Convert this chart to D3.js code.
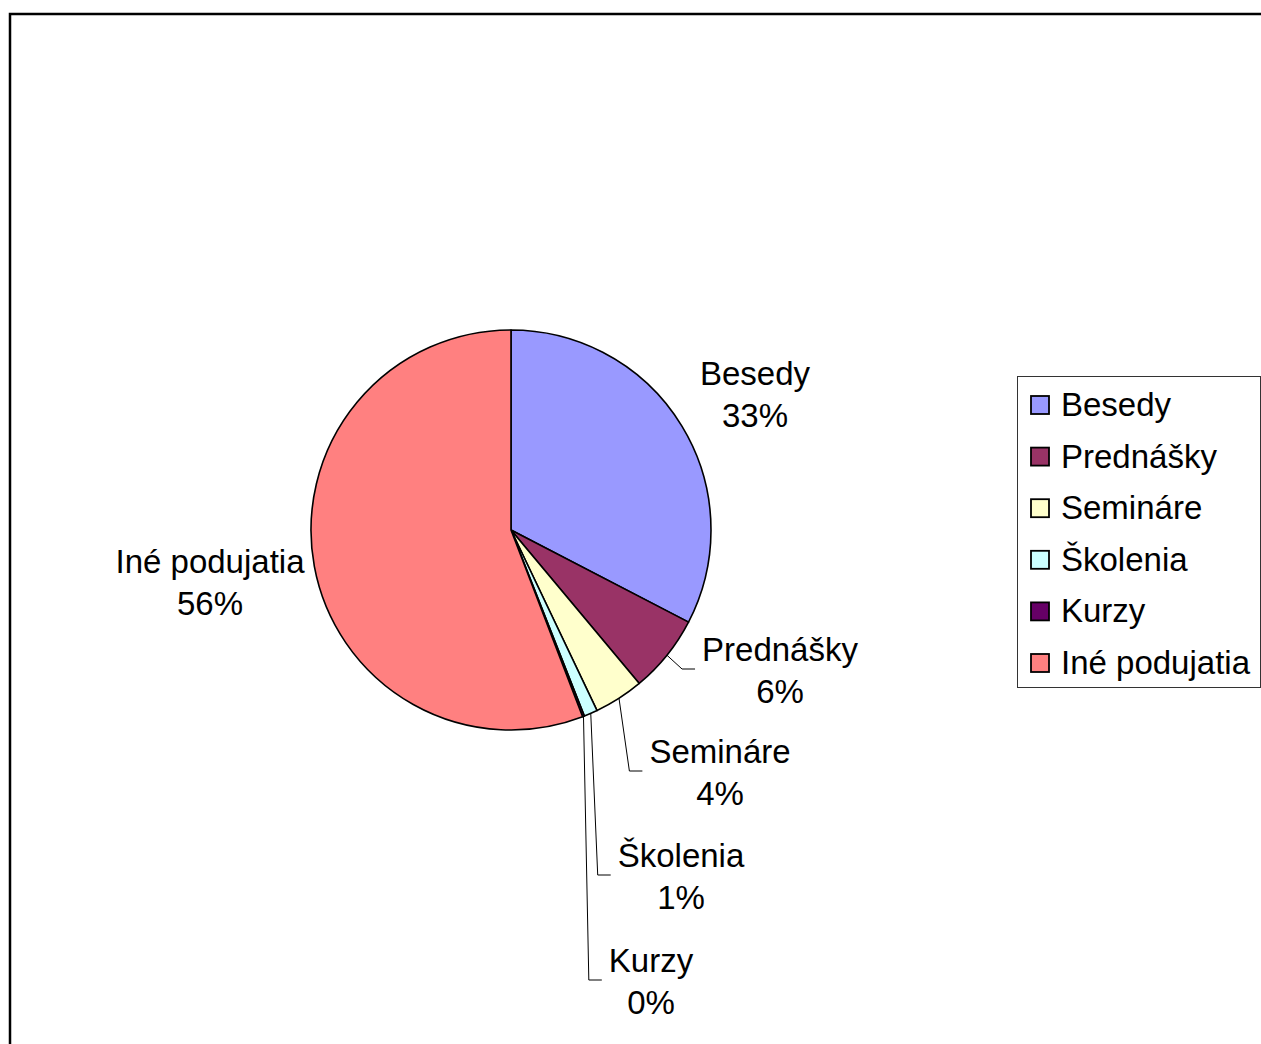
<!DOCTYPE html>
<html>
<head>
<meta charset="utf-8">
<script src="https://cdn.jsdelivr.net/npm/d3@7"></script>
<style>
  body { margin: 0; background: #fff; }
  text { font-family: "Liberation Sans", Arial, sans-serif; fill: #000; }
</style>
</head>
<body>
<div id="chart"></div>
<script>
// category names and values (share of events, %)
var categories = ["Besedy", "Prednášky", "Semináre", "Školenia", "Kurzy", "Iné podujatia"];
var values = [32.6, 6.3, 4.0, 1.1, 0.15, 55.8];
var colors = ["#9999FF", "#993366", "#FFFFCC", "#CCFFFF", "#660066", "#FF8080"];

// label layout: centre x and first baseline y of each data label
var labelPos = [[755, 385], [780, 661], [720, 763], [681, 867], [651, 972], [210, 573]];
var showLeader = [false, true, true, true, true, false];

var svgWidth = 1261;
var svgHeight = 1044;

var svg = d3.select("#chart")
  .append("svg")
  .attr("width", svgWidth)
  .attr("height", svgHeight);

// chart frame (runs off the right and bottom edges)
svg.append("rect")
  .attr("x", 10)
  .attr("y", 14)
  .attr("width", 1300)
  .attr("height", 1100)
  .attr("fill", "#fff")
  .attr("stroke", "#000")
  .attr("stroke-width", 2.5);

var cx = 511, cy = 530, radius = 200;

var pie = d3.pie().sort(null).value(d => d);
var arcs = pie(values);

var arc = d3.arc().innerRadius(0).outerRadius(radius);

var pieGroup = svg.append("g")
  .attr("transform", `translate(${cx}, ${cy})`);

pieGroup.selectAll("path")
  .data(arcs)
  .enter()
  .append("path")
  .attr("d", arc)
  .attr("fill", (d, i) => colors[i])
  .attr("stroke", "#000")
  .attr("stroke-width", 1.6)
  .attr("stroke-linejoin", "round");

var fmt = d3.format(".0f");
var total = d3.sum(values);

// data labels
var labelGroup = svg.append("g");
arcs.forEach(function(d, i) {
  var t = labelGroup.append("text")
    .attr("text-anchor", "middle")
    .attr("font-size", 33);
  t.append("tspan")
    .attr("x", labelPos[i][0])
    .attr("y", labelPos[i][1])
    .text(categories[i]);
  t.append("tspan")
    .attr("x", labelPos[i][0])
    .attr("y", labelPos[i][1] + 42)
    .text(fmt(d.value / total * 100) + "%");

  if (showLeader[i]) {
    var w = t.select("tspan").node().getComputedTextLength();
    var left = labelPos[i][0] - w / 2;
    var mid = (d.startAngle + d.endAngle) / 2;
    var sx = cx + radius * Math.sin(mid);
    var sy = cy - radius * Math.cos(mid);
    var ly = labelPos[i][1] + 8;
    var ex = left - 7;
    svg.append("polyline")
      .attr("points", `${sx},${sy} ${ex - 13},${ly} ${ex},${ly}`)
      .attr("fill", "none")
      .attr("stroke", "#000")
      .attr("stroke-width", 1);
  }
});

// legend
var legend = svg.append("g");
legend.append("rect")
  .attr("x", 1017.5)
  .attr("y", 376.5)
  .attr("width", 243)
  .attr("height", 311)
  .attr("fill", "#fff")
  .attr("stroke", "#333")
  .attr("stroke-width", 1);

var legendY = d3.scaleLinear().domain([0, 5]).range([405, 663]);

categories.forEach(function(c, i) {
  legend.append("rect")
    .attr("x", 1031)
    .attr("y", legendY(i) - 9)
    .attr("width", 18)
    .attr("height", 18)
    .attr("fill", colors[i])
    .attr("stroke", "#000")
    .attr("stroke-width", 1.8);
  legend.append("text")
    .attr("x", 1061)
    .attr("y", legendY(i) + 11)
    .attr("font-size", 33)
    .text(c);
});
</script>
</body>
</html>
